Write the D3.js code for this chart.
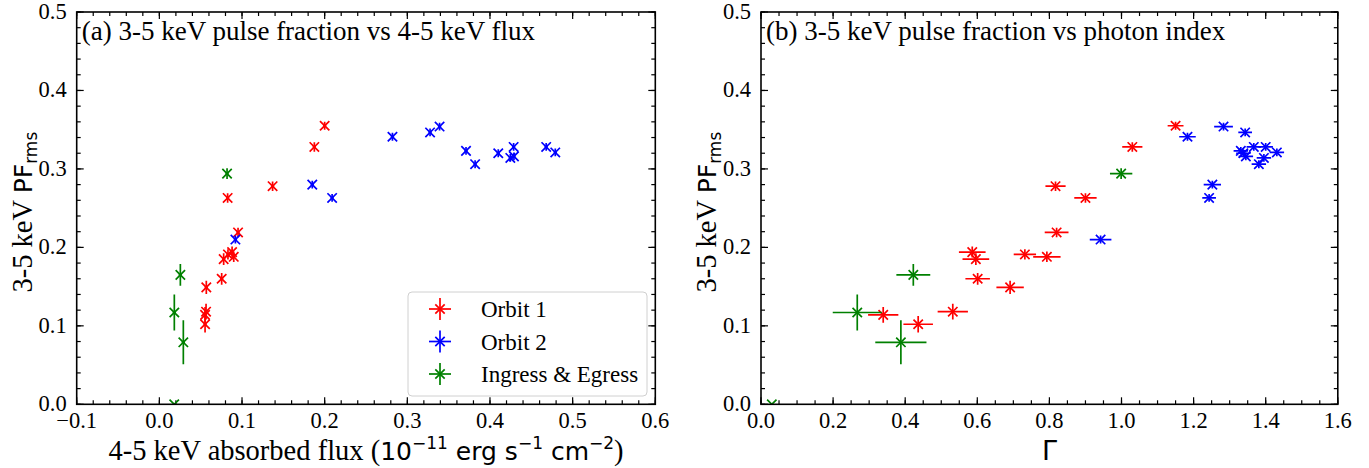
<!DOCTYPE html>
<html>
<head>
<meta charset="utf-8">
<script src="https://cdn.jsdelivr.net/npm/d3@7"></script>
<style>
  html, body { margin: 0; padding: 0; background: #fff; }
  svg { display: block; }
  .tick-label { font-family: "Liberation Serif", "Times New Roman", serif; font-size: 22.5px; fill: #000; }
  .serif { font-family: "Liberation Serif", "Times New Roman", serif; }
  .sans { font-family: "DejaVu Sans", sans-serif; }
</style>
</head>
<body>
<svg id="chart" width="1369" height="468"></svg>
<script>
// Orbit 1: 4-5 keV absorbed flux, photon index and 3-5 keV rms pulse fraction
const flux1     = [0.200, 0.1875, 0.137, 0.0826, 0.0952, 0.088, 0.083, 0.090, 0.0778, 0.0754, 0.0568, 0.0565, 0.0553, 0.0553];
const fluxErr1  = [0.002, 0.002, 0.002, 0.002, 0.002, 0.002, 0.002, 0.002, 0.002, 0.002, 0.002, 0.002, 0.002, 0.002];
const gamma1    = [1.150, 1.030, 0.817, 0.900, 0.820, 0.586, 0.732, 0.793, 0.596, 0.601, 0.691, 0.532, 0.339, 0.436];
const gammaErr1 = [0.022, 0.028, 0.028, 0.031, 0.033, 0.037, 0.031, 0.038, 0.037, 0.034, 0.038, 0.042, 0.042, 0.041];
const pf1       = [0.355, 0.328, 0.278, 0.263, 0.219, 0.194, 0.191, 0.188, 0.185, 0.160, 0.149, 0.118, 0.114, 0.102];
const pfErr1    = [0.005, 0.006, 0.006, 0.006, 0.006, 0.007, 0.0066, 0.0066, 0.0075, 0.0075, 0.0085, 0.010, 0.010, 0.0104];

// Orbit 2
const flux2     = [0.092, 0.185, 0.209, 0.282, 0.3275, 0.339, 0.371, 0.382, 0.410, 0.4286, 0.429, 0.4246, 0.468, 0.479];
const fluxErr2  = [0.002, 0.002, 0.002, 0.002, 0.002, 0.002, 0.002, 0.002, 0.002, 0.002, 0.002, 0.002, 0.002, 0.002];
const gamma2    = [0.942, 1.252, 1.243, 1.183, 1.343, 1.283, 1.331, 1.381, 1.338, 1.367, 1.345, 1.395, 1.400, 1.431];
const gammaErr2 = [0.030, 0.024, 0.019, 0.023, 0.019, 0.026, 0.020, 0.020, 0.020, 0.020, 0.020, 0.020, 0.020, 0.020];
const pf2       = [0.210, 0.280, 0.263, 0.341, 0.3465, 0.354, 0.323, 0.306, 0.320, 0.328, 0.316, 0.314, 0.328, 0.321];
const pfErr2    = [0.005, 0.005, 0.005, 0.005, 0.005, 0.005, 0.005, 0.005, 0.005, 0.005, 0.005, 0.005, 0.005, 0.005];

// Ingress & Egress
const flux3     = [0.0819, 0.0254, 0.0181, 0.029, 0.018];
const fluxErr3  = [0.002, 0.002, 0.002, 0.002, 0.0];
const gamma3    = [0.999, 0.4225, 0.267, 0.388, 0.030];
const gammaErr3 = [0.031, 0.047, 0.068, 0.071, 0.0];
const pf3       = [0.294, 0.165, 0.117, 0.079, 0.0];
const pfErr3    = [0.007, 0.0138, 0.023, 0.028, 0.0];

const seriesNames  = ["Orbit 1", "Orbit 2", "Ingress & Egress"];
const seriesColors = ["#ff0000", "#0000ff", "#008000"];

const pfTicks    = [0.0, 0.1, 0.2, 0.3, 0.4, 0.5];
const fluxTicks  = [-0.1, 0.0, 0.1, 0.2, 0.3, 0.4, 0.5, 0.6];
const gammaTicks = [0.0, 0.2, 0.4, 0.6, 0.8, 1.0, 1.2, 1.4, 1.6];

const panelTitles = ["(a) 3-5 keV pulse fraction vs 4-5 keV flux", "(b) 3-5 keV pulse fraction vs photon index"];

function zip(xs, xe, ys, ye) {
  return xs.map((x, i) => ({ x, xe: xe[i], y: ys[i], ye: ye[i] }));
}
const fluxSeries = [zip(flux1, fluxErr1, pf1, pfErr1), zip(flux2, fluxErr2, pf2, pfErr2), zip(flux3, fluxErr3, pf3, pfErr3)];
const gammaSeries = [zip(gamma1, gammaErr1, pf1, pfErr1), zip(gamma2, gammaErr2, pf2, pfErr2), zip(gamma3, gammaErr3, pf3, pfErr3)];

const svg = d3.select("#chart");
const fmt = d3.format(".1f");
const minusFmt = v => fmt(v).replace("-", "\u2212");

const plotTop = 12, plotBottom = 404.3;
const markerHalf = 4.7;

function xMarker(sel, cx, cy) {
  const s = markerHalf;
  sel.append("path").attr("d", `M${cx - s},${cy - s}L${cx + s},${cy + s}M${cx - s},${cy + s}L${cx + s},${cy - s}`);
}

function drawPanel(opt) {
  const g = svg.append("g");
  const x = d3.scaleLinear().domain(opt.xDomain).range([opt.left, opt.right]);
  const y = d3.scaleLinear().domain([0, 0.5]).range([plotBottom, plotTop]);
  const clipId = "clip" + opt.id;
  svg.append("clipPath").attr("id", clipId)
    .append("rect").attr("x", opt.left).attr("y", plotTop).attr("width", opt.right - opt.left).attr("height", plotBottom - plotTop);

  // inward ticks on all four sides
  const majorLen = 7, minorLen = 4;
  const ticksG = g.append("g").attr("stroke", "#000").attr("stroke-width", 1.2);
  const xMinor = d3.range(opt.xDomain[0], opt.xDomain[1] + 1e-9, opt.xMinor);
  const yMinor = d3.range(0, 0.5 + 1e-9, 0.02);
  xMinor.forEach(v => {
    ticksG.append("line").attr("x1", x(v)).attr("x2", x(v)).attr("y1", plotBottom).attr("y2", plotBottom - minorLen);
    ticksG.append("line").attr("x1", x(v)).attr("x2", x(v)).attr("y1", plotTop).attr("y2", plotTop + minorLen);
  });
  yMinor.forEach(v => {
    ticksG.append("line").attr("x1", opt.left).attr("x2", opt.left + minorLen).attr("y1", y(v)).attr("y2", y(v));
    ticksG.append("line").attr("x1", opt.right).attr("x2", opt.right - minorLen).attr("y1", y(v)).attr("y2", y(v));
  });
  opt.xTicks.forEach(v => {
    ticksG.append("line").attr("x1", x(v)).attr("x2", x(v)).attr("y1", plotBottom).attr("y2", plotBottom - majorLen);
    ticksG.append("line").attr("x1", x(v)).attr("x2", x(v)).attr("y1", plotTop).attr("y2", plotTop + majorLen);
  });
  pfTicks.forEach(v => {
    ticksG.append("line").attr("x1", opt.left).attr("x2", opt.left + majorLen).attr("y1", y(v)).attr("y2", y(v));
    ticksG.append("line").attr("x1", opt.right).attr("x2", opt.right - majorLen).attr("y1", y(v)).attr("y2", y(v));
  });

  // tick labels
  opt.xTicks.forEach(v => {
    g.append("text").attr("class", "tick-label").attr("x", x(v)).attr("y", plotBottom + 24)
      .attr("text-anchor", "middle").text(minusFmt(v));
  });
  pfTicks.forEach(v => {
    g.append("text").attr("class", "tick-label").attr("x", opt.left - 10).attr("y", y(v) + 7)
      .attr("text-anchor", "end").text(fmt(v));
  });

  // data: error bars + 'x' markers
  const dataG = g.append("g").attr("clip-path", `url(#${clipId})`);
  opt.series.forEach((pts, si) => {
    const c = seriesColors[si];
    const sg = dataG.append("g").attr("stroke", c).attr("stroke-width", 1.7).attr("fill", "none");
    pts.forEach(p => {
      const px = x(p.x), py = y(p.y);
      sg.append("line").attr("x1", x(p.x - p.xe)).attr("x2", x(p.x + p.xe)).attr("y1", py).attr("y2", py);
      sg.append("line").attr("x1", px).attr("x2", px).attr("y1", y(p.y - p.ye)).attr("y2", y(p.y + p.ye));
      xMarker(sg, px, py);
    });
  });

  // frame
  g.append("rect").attr("x", opt.left).attr("y", plotTop).attr("width", opt.right - opt.left).attr("height", plotBottom - plotTop)
    .attr("fill", "none").attr("stroke", "#000").attr("stroke-width", 1.6);

  // panel title
  g.append("text").attr("class", "serif").attr("x", opt.left + 5).attr("y", plotTop + 28)
    .attr("font-size", 27).text(opt.title);

  // y label
  const yl = g.append("text").attr("transform", `translate(${opt.left - 45},${(plotTop + plotBottom) / 2 + 4}) rotate(-90)`)
    .attr("text-anchor", "middle").attr("font-size", 28.5);
  yl.append("tspan").attr("class", "serif").text("3-5 keV ");
  yl.append("tspan").attr("class", "sans").attr("font-size", 25).text("PF");
  yl.append("tspan").attr("class", "sans").attr("font-size", 17).attr("dy", 5).text("rms");

  // x label
  opt.xLabel(g.append("text").attr("x", (opt.left + opt.right) / 2).attr("y", plotBottom + 56).attr("text-anchor", "middle"));
  return { x, y };
}

drawPanel({
  id: "a", left: 76.7, right: 655.3, xDomain: [-0.1, 0.6], xTicks: fluxTicks, xMinor: 0.02,
  series: fluxSeries, title: panelTitles[0],
  xLabel: t => {
    t.attr("font-size", 28.5);
    t.append("tspan").attr("class", "serif").text("4-5 keV absorbed flux (");
    t.append("tspan").attr("class", "sans").attr("font-size", 25).text("10");
    t.append("tspan").attr("class", "sans").attr("font-size", 17).attr("dy", -11).text("\u221211");
    t.append("tspan").attr("class", "sans").attr("font-size", 25).attr("dy", 11).text(" erg s");
    t.append("tspan").attr("class", "sans").attr("font-size", 17).attr("dy", -11).text("\u22121");
    t.append("tspan").attr("class", "sans").attr("font-size", 25).attr("dy", 11).text(" cm");
    t.append("tspan").attr("class", "sans").attr("font-size", 17).attr("dy", -11).text("\u22122");
    t.append("tspan").attr("class", "serif").attr("dy", 11).text(")");
  }
});

drawPanel({
  id: "b", left: 761, right: 1337.8, xDomain: [0, 1.6], xTicks: gammaTicks, xMinor: 0.05,
  series: gammaSeries, title: panelTitles[1],
  xLabel: t => {
    t.attr("class", "sans").attr("font-size", 27).text("\u0393");
  }
});

// legend (left panel)
const lg = svg.append("g");
lg.append("rect").attr("x", 408).attr("y", 292).attr("width", 239).attr("height", 104).attr("rx", 4)
  .attr("fill", "#fff").attr("fill-opacity", 0.8).attr("stroke", "#d0d0d0").attr("stroke-width", 1);
seriesNames.forEach((name, i) => {
  const cy = 309 + i * 32.5, cx = 440;
  const e = lg.append("g").attr("stroke", seriesColors[i]).attr("stroke-width", 1.7);
  e.append("line").attr("x1", cx - 11).attr("x2", cx + 11).attr("y1", cy).attr("y2", cy);
  e.append("line").attr("x1", cx).attr("x2", cx).attr("y1", cy - 11).attr("y2", cy + 11);
  xMarker(e, cx, cy);
  lg.append("text").attr("class", "serif").attr("x", 481).attr("y", cy + 8).attr("font-size", 23).text(name);
});
</script>
</body>
</html>
